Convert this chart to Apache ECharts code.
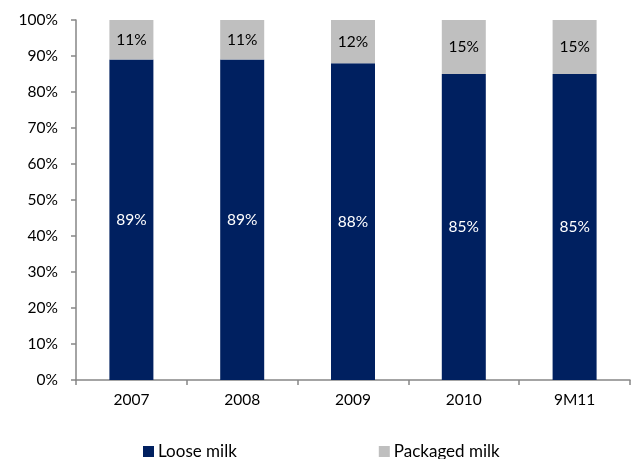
<!DOCTYPE html>
<html><head><meta charset="utf-8">
<script src="https://cdn.jsdelivr.net/npm/echarts@6/dist/echarts.min.js"></script>
<style>html,body{margin:0;padding:0;background:#fff}#c{width:633px;height:459px}</style>
</head><body><div id="c"></div>
<script>
const categories = ['2007','2008','2009','2010','9M11'];
const looseMilk = [89, 89, 88, 85, 85];
const packagedMilk = [11, 11, 12, 15, 15];
const yTicks = [0,10,20,30,40,50,60,70,80,90,100];
const FONT = 'Lato';
const chart = echarts.init(document.getElementById('c'));
chart.setOption({
  animation: false,
  textStyle: {fontFamily: FONT},
  grid: {left: 76, right: 3, top: 20, bottom: 79, containLabel: false},
  legend: {
    top: 443, left: 143, itemWidth: 11, itemHeight: 11, itemGap: 142,
    icon: 'rect', padding: 0,
    textStyle: {fontFamily: FONT, fontSize: 17, color: '#000', padding: [0,0,0,-1]},
    data: ['Loose milk','Packaged milk']
  },
  xAxis: {
    type: 'category', data: categories,
    axisLine: {lineStyle: {color: '#868686', width: 1.5}},
    axisTick: {show: true, length: 5, lineStyle: {color: '#868686', width: 1.5}},
    axisLabel: {color: '#000', fontSize: 15.5, fontFamily: FONT, margin: 12}
  },
  yAxis: {
    type: 'value', min: 0, max: 100, interval: 10,
    axisLine: {show: true, lineStyle: {color: '#868686', width: 1.5}},
    axisTick: {show: true, length: 5, lineStyle: {color: '#868686', width: 1.5}},
    splitLine: {show: false},
    axisLabel: {color: '#000', fontSize: 15.5, fontFamily: FONT, margin: 18,
      formatter: v => yTicks.includes(v) ? v + '%' : ''}
  },
  series: [
    {name: 'Loose milk', type: 'bar', stack: 's', data: looseMilk, barWidth: 44,
     itemStyle: {color: '#002060'},
     label: {show: true, position: 'inside', color: '#fff', fontSize: 15.5, fontFamily: FONT, formatter: p => p.value + '%'}},
    {name: 'Packaged milk', type: 'bar', stack: 's', data: packagedMilk, barWidth: 44,
     itemStyle: {color: '#BFBFBF'},
     label: {show: true, position: 'inside', color: '#000', fontSize: 15.5, fontFamily: FONT, formatter: p => p.value + '%'}}
  ]
});
</script></body></html>
